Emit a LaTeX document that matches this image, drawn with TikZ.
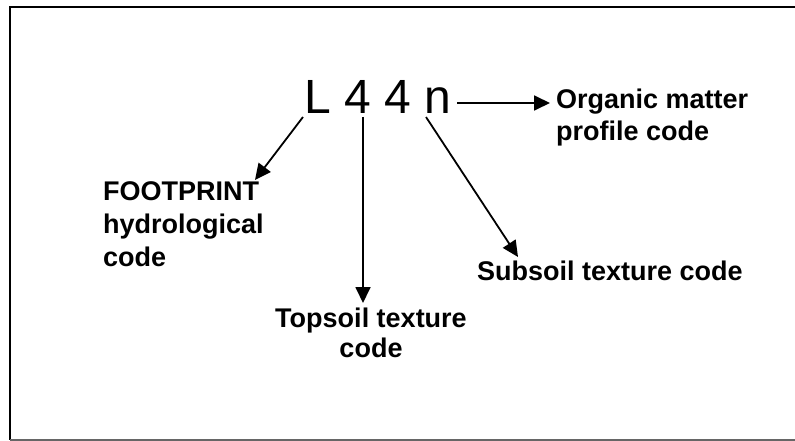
\documentclass[tikz,border=0pt]{standalone}
\usepackage{fontspec}
\setmainfont{Liberation Sans}
\usetikzlibrary{arrows.meta}
\begin{document}
\begin{tikzpicture}[x=1pt,y=-1pt,
  big/.style={font=\fontsize{48}{56}\selectfont, inner sep=0pt, anchor=base west},
  lbl/.style={font=\fontsize{27}{33}\selectfont\bfseries, inner sep=0pt, anchor=base west, align=left},
  arr/.style={line width=1.8pt, -{Triangle[length=16pt,width=15pt]}}]
\useasboundingbox (0,0) rectangle (795,441);
\draw[line width=1.6pt] (796,7) -- (10,7) -- (10,440);
\draw[line width=1.4pt, black!60] (10,440) -- (796,440);
% code letters
\node[big] (cL) at (304.5,114) {L};
\node[big] (c1) at (344.5,114) {4};
\node[big] (c2) at (384.5,114) {4};
\node[big] (cN) at (424.5,114) {n};
% labels (base anchor = baseline of last line)
\node[lbl] (foot) at (103,266) {FOOTPRINT\\hydrological\\code};
\node[lbl, anchor=base, align=center, font=\fontsize{27}{30}\selectfont\bfseries] (top) at (371,357) {Topsoil texture\\code};
\node[lbl] (sub) at (477,280) {Subsoil texture code};
\node[lbl, font=\fontsize{27}{32}\selectfont\bfseries] (org) at (556,140) {Organic matter\\profile code};
% connector anchors
\coordinate (sL) at (303,117);
\coordinate (eL) at (255,180);
\coordinate (s1) at (363,117);
\coordinate (e1) at (363,303);
\coordinate (sN) at (426,117);
\coordinate (eN) at (518,257);
\coordinate (hN) at (457,103);
\coordinate (oN) at (550,103);
\draw[arr] (sL) -- (eL);
\draw[arr] (s1) -- (e1);
\draw[arr] (sN) -- (eN);
\draw[arr] (hN) -- (oN);
\end{tikzpicture}
\end{document}
